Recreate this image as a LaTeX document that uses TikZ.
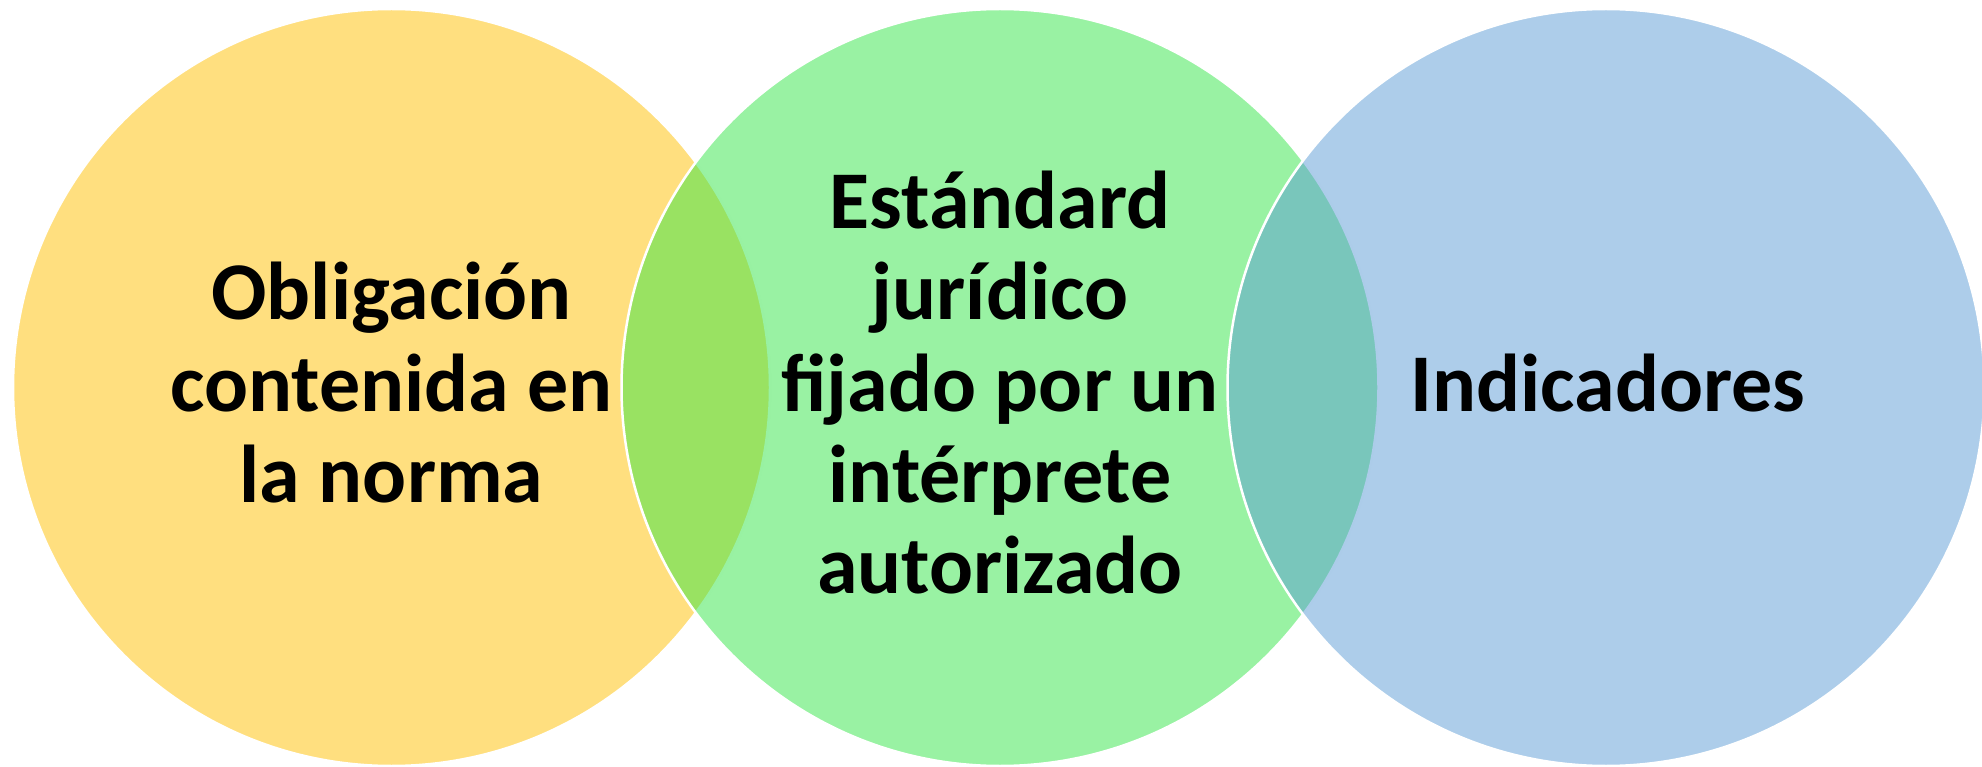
\documentclass[tikz,border=0pt]{standalone}
\usepackage{fontspec}
\setmainfont{Carlito}
\definecolor{cyellow}{RGB}{255,192,0}
\definecolor{cgreen}{RGB}{51,229,71}
\definecolor{cblue}{RGB}{91,155,213}
\tikzset{
  venn/.style={circle, minimum size=757pt, inner sep=0pt, draw=white, line width=2.5pt, fill opacity=0.5},
  lbl/.style={anchor=base, inner sep=0pt, text=black, font=\bfseries\fontsize{82}{91}\selectfont}
}
\begin{document}
\begin{tikzpicture}[x=1pt,y=-1pt]
\useasboundingbox (0,0) rectangle (1982,767);
\clip (0,0) rectangle (1982,767);
\node[venn, fill=cyellow] (c1) at (391.5,387.5) {};
\node[venn, fill=cgreen] (c2) at (1000,387.5) {};
\node[venn, fill=cblue] (c3) at (1606,387.5) {};
% left text
\node[lbl] (t1a) at (391.5,320) {Obligación};
\node[lbl] (t1b) at (391.5,411) {contenida en};
\node[lbl] (t1c) at (391.5,502) {la norma};
% middle text
\node[lbl] (t2a) at (1000,229) {Estándard};
\node[lbl] (t2b) at (1000,320) {jurídico};
\node[lbl] (t2c) at (1000,411) {fijado por un};
\node[lbl] (t2d) at (1000,502) {intérprete};
\node[lbl] (t2e) at (1000,593) {autorizado};
% right text
\node[lbl] (t3a) at (1608,411) {Indicadores};
\end{tikzpicture}
\end{document}
